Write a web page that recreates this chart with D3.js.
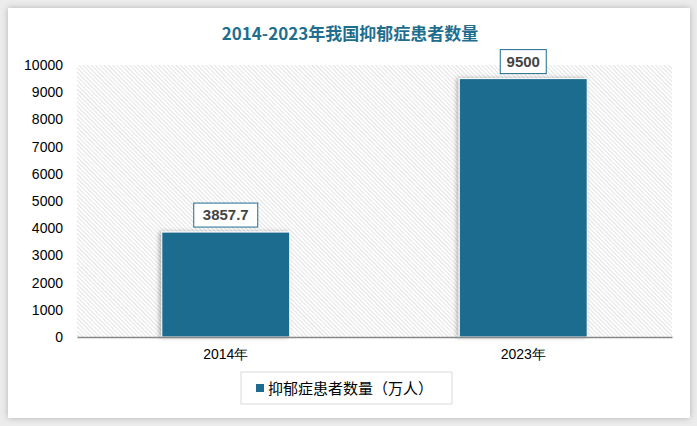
<!DOCTYPE html>
<html><head><meta charset="utf-8">
<script src="https://cdn.jsdelivr.net/npm/d3@7"></script>
<style>
body{margin:0;background:#ececec;font-family:"Noto Sans CJK SC","Liberation Sans",sans-serif;}
</style></head><body>
<svg id="chart" width="697" height="426"></svg>
<script>
const categories = ["2014年", "2023年"]
const values = [3857.7, 9500]
const yTicks = [0, 1000, 2000, 3000, 4000, 5000, 6000, 7000, 8000, 9000, 10000]
const seriesName = "抑郁症患者数量（万人）"
const title = "2014-2023年我国抑郁症患者数量"

const svg = d3.select('#chart')
const defs = svg.append('defs')

const shadow = defs.append('filter').attr('id', 'shadow').attr('x', '-10%').attr('y', '-10%').attr('width', '120%').attr('height', '120%')
shadow.append('feDropShadow').attr('dx', 0).attr('dy', 0).attr('stdDeviation', 3).attr('flood-color', '#000').attr('flood-opacity', 0.25)

const barShadow = defs.append('filter').attr('id', 'barShadow').attr('x', '-20%').attr('y', '-20%').attr('width', '140%').attr('height', '140%')
barShadow.append('feDropShadow').attr('dx', -2).attr('dy', 0).attr('stdDeviation', 2).attr('flood-color', '#000').attr('flood-opacity', 0.3)

const pat = defs.append('pattern').attr('id', 'hatch').attr('patternUnits', 'userSpaceOnUse')
	.attr('width', 3).attr('height', 3).attr('patternTransform', 'rotate(-45)')
pat.append('rect').attr('width', 3).attr('height', 3).attr('fill', '#fff')
pat.append('line').attr('x1', 0).attr('y1', 0).attr('x2', 0).attr('y2', 3).attr('stroke', '#c8c8c8').attr('stroke-width', 1)

// card
svg.append('rect').attr('x', 8).attr('y', 8).attr('width', 682).attr('height', 410)
	.attr('fill', '#fff').attr('filter', 'url(#shadow)')

svg.append('text').attr('x', 350).attr('y', 40).attr('text-anchor', 'middle')
	.attr('font-size', 17).attr('font-weight', 'bold').attr('fill', '#1f6e8f').text(title)

const plotLeft = 77, plotRight = 672, plotTop = 65, plotBottom = 337

const x = d3.scaleBand().domain(categories).range([plotLeft, plotRight]).paddingInner(0.57).paddingOuter(0.285)
const y = d3.scaleLinear().domain([0, 10000]).range([plotBottom, plotTop])

svg.append('rect').attr('x', plotLeft).attr('y', plotTop).attr('width', plotRight - plotLeft).attr('height', plotBottom - plotTop)
	.attr('fill', 'url(#hatch)')

const yAxis = svg.append('g').attr('transform', `translate(${plotLeft},0)`)
	.call(d3.axisLeft(y).tickValues(yTicks).tickFormat(d3.format('d')).tickSize(0).tickPadding(14))
yAxis.select('.domain').remove()
yAxis.selectAll('text').attr('font-size', 14).attr('fill', '#000').attr('font-family', '"Liberation Sans",sans-serif')

svg.selectAll('.bar').data(values).enter().append('rect')
	.attr('class', 'bar')
	.attr('x', (d, i) => x(categories[i]))
	.attr('y', d => y(d))
	.attr('width', x.bandwidth())
	.attr('height', d => plotBottom - y(d))
	.attr('fill', '#1d6c8f').attr('stroke', '#fff').attr('stroke-width', 1)
	.attr('filter', 'url(#barShadow)')

const xAxis = svg.append('g').attr('transform', `translate(0,${plotBottom})`)
	.call(d3.axisBottom(x).tickSize(0).tickPadding(12))
xAxis.select('.domain').attr('stroke', '#888').attr('stroke-width', 1.5)
xAxis.selectAll('text').attr('font-size', 14).attr('fill', '#000')

// value labels
values.forEach(function(v, i) {
	const cx = x(categories[i]) + x.bandwidth() / 2
	const label = String(v)
	const w = label.length * 9 + 10
	svg.append('rect').attr('x', cx - w / 2).attr('y', y(v) - 29).attr('width', w).attr('height', 24)
		.attr('fill', '#fff').attr('stroke', '#1d6c8f').attr('stroke-width', 1)
	svg.append('text').attr('x', cx).attr('y', y(v) - 12).attr('text-anchor', 'middle')
		.attr('font-size', 15).attr('font-weight', 'bold').attr('fill', '#444')
		.attr('font-family', '"Liberation Sans",sans-serif').text(label)
})

// legend
svg.append('rect').attr('x', 241).attr('y', 372).attr('width', 211).attr('height', 32)
	.attr('fill', '#fff').attr('stroke', '#d9d9d9')
svg.append('rect').attr('x', 256).attr('y', 384).attr('width', 8).attr('height', 8).attr('fill', '#1d6c8f')
svg.append('text').attr('x', 268).attr('y', 394).attr('font-size', 15).attr('fill', '#000').text(seriesName)
</script>
</body></html>
